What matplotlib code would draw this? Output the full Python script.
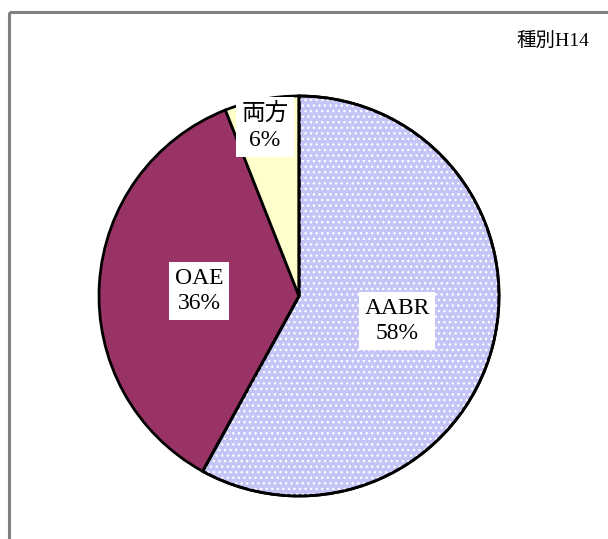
import matplotlib
matplotlib.use("Agg")
import matplotlib.pyplot as plt
from matplotlib.patches import Wedge

plt.rcParams['font.family'] = ['Liberation Serif', 'Noto Sans CJK JP', 'DejaVu Sans']
plt.rcParams['hatch.linewidth'] = 1.0

categories = ['AABR', 'OAE', '両方']
values = [58, 36, 6]
colors = ['#c4c4f6', '#993366', '#ffffcc']
title = '種別H14'

W, H = 608, 539
fig = plt.figure(figsize=(W/100, H/100), dpi=100)
ax = fig.add_axes([0, 0, 1, 1])

# frame
ax.plot([8.5, 8.5], [0, H-11.5], color='#808080', lw=2.2, solid_capstyle='butt')
ax.plot([8.5, W], [H-11.5, H-11.5], color='#808080', lw=2.2, solid_capstyle='butt')

center = (299, H-296)
radius = 200
wedges, _ = ax.pie(values, colors=colors, startangle=90, counterclock=False,
                   center=center, radius=radius, frame=True,
                   wedgeprops=dict(edgecolor='black', linewidth=2))
ax.set_xlim(0, W)
ax.set_ylim(0, H)
ax.axis('off')

# dotted pattern on AABR
w0 = wedges[0]
pat = Wedge(w0.center, w0.r, w0.theta1, w0.theta2, facecolor='none',
            edgecolor='white', hatch='...', linewidth=0)
ax.add_patch(pat)
outline = Wedge(w0.center, w0.r, w0.theta1, w0.theta2, facecolor='none',
                edgecolor='black', linewidth=2)
ax.add_patch(outline)

label_pos = [(397, 321), (199, 291), (265, 127)]
label_size = [17, 17, 17]
for cat, v, (x, y), fs in zip(categories, values, label_pos, label_size):
    ax.text(x, H-y, f'{cat}\n{v}%', ha='center', va='center', fontsize=fs,
            linespacing=1.3,
            bbox=dict(facecolor='white', edgecolor='none', pad=4))

ax.text(553, H-42, title, ha='center', va='center', fontsize=14)

fig.savefig('out.png', dpi=100)
